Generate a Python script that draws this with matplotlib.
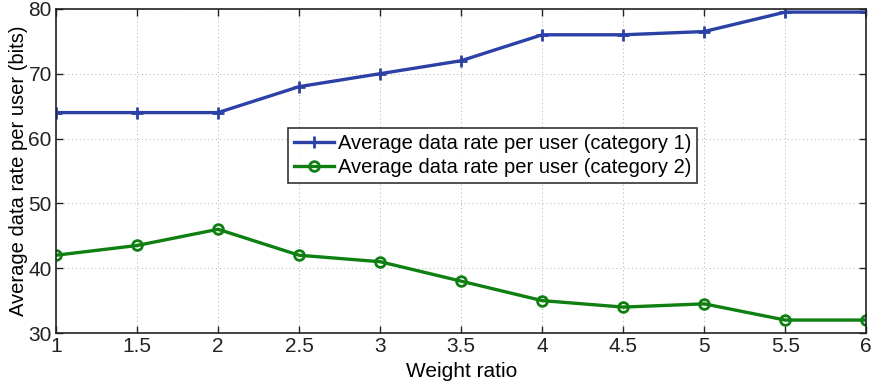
import matplotlib.pyplot as plt
import numpy as np

plt.rcParams['font.family'] = ['Liberation Sans', 'DejaVu Sans']

# Data
weight_ratio = [1, 1.5, 2, 2.5, 3, 3.5, 4, 4.5, 5, 5.5, 6]
rate_cat1 = [64, 64, 64, 68, 70, 72, 76, 76, 76.5, 79.5, 79.5]
rate_cat2 = [42, 43.5, 46, 42, 41, 38, 35, 34, 34.5, 32, 32]
x_ticks = [1, 1.5, 2, 2.5, 3, 3.5, 4, 4.5, 5, 5.5, 6]
y_ticks = [30, 40, 50, 60, 70, 80]

fig = plt.figure(figsize=(8.75, 3.85), dpi=100)
ax = fig.add_axes([0.064, 0.135, 0.926, 0.842])

ax.plot(weight_ratio, rate_cat1, color='#2b41a6', lw=2.4, marker='+',
        ms=8, mew=2, label='Average data rate per user (category 1)')
ax.plot(weight_ratio, rate_cat2, color='#0f7f12', lw=2.4, marker='o',
        ms=7, mew=2, mfc='none', label='Average data rate per user (category 2)')

ax.set_xlim(1, 6)
ax.set_ylim(30, 80)
ax.set_xticks(x_ticks)
ax.set_xticklabels(['1', '1.5', '2', '2.5', '3', '3.5', '4', '4.5', '5', '5.5', '6'])
ax.set_yticks(y_ticks)
ax.tick_params(direction='in', top=True, right=True, labelsize=15,
               length=5, width=1, colors='#222222', pad=3)
for s in ax.spines.values():
    s.set_linewidth(1.2)
    s.set_color('#222222')
ax.grid(True, linestyle=(0, (1, 3)), color='#b0b0b0', lw=0.7)
ax.set_axisbelow(True)

ax.set_xlabel('Weight ratio', fontsize=15, labelpad=4)
ax.set_ylabel('Average data rate per user (bits)', fontsize=14.5, labelpad=0)

leg = ax.legend(loc='lower left', bbox_to_anchor=(0.286, 0.463), fontsize=14.5,
                frameon=True, fancybox=False, handlelength=2.0, handletextpad=0.2,
                borderpad=0.3, labelspacing=0.25, borderaxespad=0)
leg.get_frame().set_edgecolor('black')
leg.get_frame().set_linewidth(1.2)

plt.savefig('out.png', dpi=100)
